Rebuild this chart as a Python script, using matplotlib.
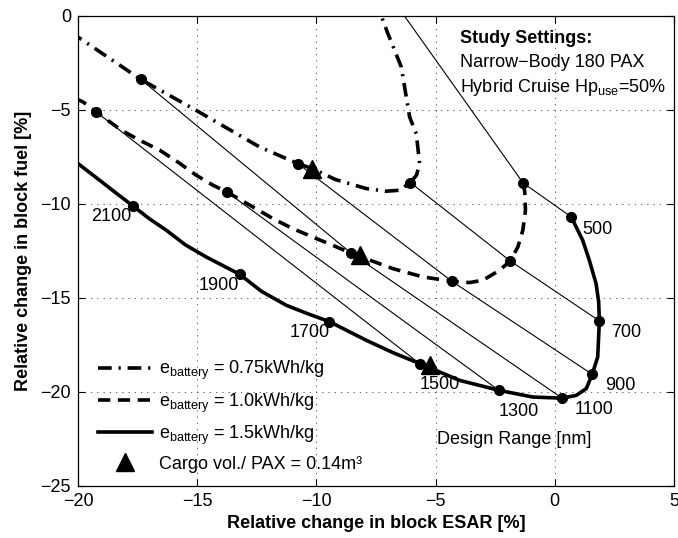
import matplotlib
matplotlib.use('Agg')
import matplotlib.pyplot as plt

plt.rcParams['font.family'] = ['Liberation Sans', 'DejaVu Sans']
plt.rcParams['font.size'] = 13
plt.rcParams['mathtext.fontset'] = 'custom'
plt.rcParams['mathtext.rm'] = 'Liberation Sans'
plt.rcParams['mathtext.it'] = 'Liberation Sans:italic'
plt.rcParams['mathtext.bf'] = 'Liberation Sans:bold'

# design ranges [nm] marked on the curves
ranges = [500, 700, 900, 1100, 1300, 1500, 1700, 1900, 2100]

# marked points per battery specific energy (ESAR change, fuel change) [%]
esar_15 = [0.69, 1.87, 1.57, 0.31, -2.35, -5.67, -9.45, -13.22, -17.69]
fuel_15 = [-10.69, -16.22, -19.06, -20.33, -19.91, -18.49, -16.26, -13.74, -10.11]
esar_10 = [-1.33, -1.87, -4.32, -8.54, -13.76, -19.23]
fuel_10 = [-8.88, -13.03, -14.11, -12.62, -9.36, -5.11]
esar_075 = [-8.10, -6.06, -10.78, -17.37]
fuel_075 = [3.20, -8.86, -7.85, -3.37]

# full curves (including the parts between the marked ranges)
curve_15_x = [0.69, 1.17, 1.45, 1.73, 1.84, 1.87, 1.80, 1.57, 1.32, 0.90, 0.31,
              -0.92, -2.35, -4.00, -5.67, -6.80, -7.91, -9.45, -10.40, -11.26,
              -12.30, -13.22, -14.62, -15.50, -16.29, -17.00, -17.69, -18.40,
              -19.09, -20.0]
curve_15_y = [-10.69, -11.93, -13.00, -14.23, -15.20, -16.22, -18.14, -19.06,
              -19.82, -20.18, -20.33, -20.27, -19.91, -19.38, -18.49, -17.90,
              -17.25, -16.26, -15.82, -15.39, -14.65, -13.74, -12.82, -12.17,
              -11.40, -10.79, -10.11, -9.42, -8.74, -7.85]
curve_10_x = [-1.33, -1.26, -1.23, -1.34, -1.55, -1.87, -2.32, -3.02, -3.58,
              -4.32, -5.53, -6.79, -8.54, -9.31, -10.15, -10.99, -11.82, -12.66,
              -13.76, -14.34, -15.04, -15.81, -16.57, -17.41, -18.18, -19.23,
              -19.79, -20.0]
curve_10_y = [-8.88, -9.36, -10.34, -11.40, -12.29, -13.03, -13.53, -14.06,
              -14.18, -14.11, -13.88, -13.44, -12.62, -12.20, -11.76, -11.31,
              -10.78, -10.16, -9.36, -9.00, -8.47, -7.77, -7.14, -6.61, -6.08,
              -5.11, -4.57, -4.45]
curve_075_x = [-8.10, -7.21, -7.00, -6.72, -6.44, -6.30, -6.09, -5.81, -5.67,
               -5.80, -6.06, -6.51, -7.07, -7.91, -9.20, -10.17, -10.78,
               -12.38, -15.04, -17.37, -20.0]
curve_075_y = [3.20, -0.23, -0.94, -1.82, -2.71, -3.78, -5.37, -6.26, -7.85,
               -8.47, -8.86, -9.27, -9.32, -9.18, -8.70, -8.12, -7.85, -6.97,
               -5.02, -3.37, -1.12]

# cargo volume limit (0.14 m3 per PAX)
cargo_esar = [-10.17, -8.19, -5.25]
cargo_fuel = [-8.12, -12.73, -18.55]

# range labels along the 1.5 kWh/kg curve
lbl_x = [1.80, 2.99, 2.74, 1.66, -1.51, -4.83, -10.29, -14.09, -18.60]
lbl_y = [-11.36, -16.81, -19.64, -20.94, -21.06, -19.61, -16.86, -14.32, -10.69]

fig = plt.figure(figsize=(6.78, 5.38), dpi=100)
ax = fig.add_axes([0.1150, 0.0967, 0.8791, 0.8736])

# thin lines joining equal design ranges
for i, r in enumerate(ranges):
    xs, ys = [], []
    if i < len(esar_075):
        xs.append(esar_075[i]); ys.append(fuel_075[i])
    if i < len(esar_10):
        xs.append(esar_10[i]); ys.append(fuel_10[i])
    xs.append(esar_15[i]); ys.append(fuel_15[i])
    if len(xs) > 1:
        ax.plot(xs, ys, color='k', lw=0.8, zorder=2)

lw = 2.6
h075, = ax.plot(curve_075_x, curve_075_y, color='k', lw=lw,
                linestyle=(0, (3.8, 1.9, 0.6, 1.9)), zorder=3,
                label=r'e$_{\rm battery}$ = 0.75kWh/kg')
h10, = ax.plot(curve_10_x, curve_10_y, color='k', lw=lw,
               linestyle=(0, (3.4, 2.1)), zorder=3,
               label=r'e$_{\rm battery}$ = 1.0kWh/kg')
h15, = ax.plot(curve_15_x, curve_15_y, color='k', lw=lw, linestyle='-', zorder=3,
               label=r'e$_{\rm battery}$ = 1.5kWh/kg')

for ex, fy in [(esar_075, fuel_075), (esar_10, fuel_10), (esar_15, fuel_15)]:
    ax.plot(ex, fy, 'o', color='k', ms=7, ls='none', zorder=4)

htri, = ax.plot(cargo_esar, cargo_fuel, '^', color='k', ms=13, ls='none', zorder=5,
                label='Cargo vol./ PAX = 0.14m³')

for r, tx, ty in zip(ranges, lbl_x, lbl_y):
    ax.text(tx, ty, str(r), ha='center', va='center', fontsize=13)

ax.text(-1.69, -22.53, 'Design Range [nm]', ha='center', va='center', fontsize=13)

ax.text(-3.97, -1.44, 'Study Settings:', fontweight='bold', fontsize=13, va='baseline')
ax.text(-3.97, -2.71, 'Narrow\u2212Body 180 PAX', fontsize=13, va='baseline')
ax.text(-3.97, -4.04, r'Hybrid Cruise Hp$_{\rm use}$=50%', fontsize=13, va='baseline')

leg = ax.legend(handles=[h075, h10, h15, htri], loc='lower left',
                bbox_to_anchor=(0.034, 0.028), frameon=False, borderpad=0,
                borderaxespad=0, handlelength=3.0, handletextpad=0.35,
                labelspacing=0.5, fontsize=13)

ax.set_xlim(-20, 5)
ax.set_ylim(-25, 0)
ax.set_xticks([-20, -15, -10, -5, 0, 5])
ax.set_yticks([-25, -20, -15, -10, -5, 0])
ax.grid(True, color='0.25', linestyle=(0, (1.5, 6)), lw=0.6)
ax.set_axisbelow(True)
ax.tick_params(direction='in', top=True, right=True, length=5, width=0.8,
               labelsize=13, pad=5)
for s in ax.spines.values():
    s.set_linewidth(0.9)

ax.set_xlabel('Relative change in block ESAR [%]', fontweight='bold', fontsize=13,
              labelpad=4)
ax.set_ylabel('Relative change in block fuel [%]', fontweight='bold', fontsize=13,
              labelpad=6)

fig.savefig('out.png', dpi=100)
